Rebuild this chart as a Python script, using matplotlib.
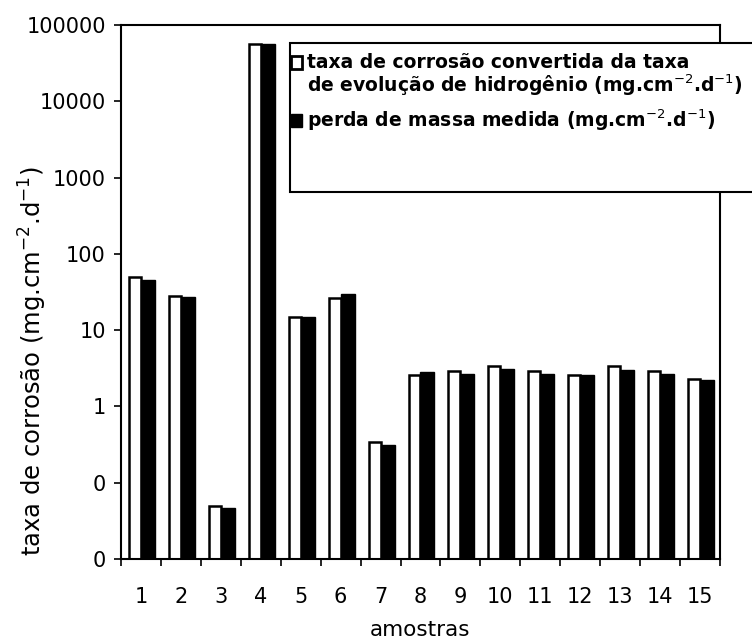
import matplotlib
matplotlib.use("Agg")
import matplotlib.pyplot as plt
from matplotlib.patches import Rectangle
import numpy as np

plt.rcParams['font.family'] = ['DejaVu Sans']

samples = [str(i) for i in range(1, 16)]
hydrogen_rate = [50, 28, 0.049, 57000, 15, 26, 0.34, 2.6, 2.9, 3.4, 2.9, 2.6, 3.4, 2.9, 2.3]
mass_loss = [45, 27, 0.046, 57000, 15, 30, 0.31, 2.8, 2.7, 3.1, 2.7, 2.6, 3.0, 2.7, 2.25]
ytick_values = [0.01, 0.1, 1, 10, 100, 1000, 10000, 100000]
ytick_labels = ['0', '0', '1', '10', '100', '1000', '10000', '100000']

fig = plt.figure(figsize=(7.52, 6.41), dpi=100)
ax = fig.add_axes([121/752, 1-559/641, (720-121)/752, (559-25)/641])

x = np.arange(1, len(samples) + 1)
w_white = 0.30
w_black = 0.35
ax.bar(x - w_white/2, hydrogen_rate, width=w_white, color='white', edgecolor='black', linewidth=1.8)
ax.bar(x + w_black/2, mass_loss, width=w_black, color='black', edgecolor='black', linewidth=1.0)

ax.set_yscale('log')
ax.set_ylim(0.01, 100000)
ax.set_xlim(0.5, len(samples) + 0.5)
ax.set_yticks(ytick_values)
ax.set_yticklabels(ytick_labels)
ax.yaxis.set_minor_locator(matplotlib.ticker.NullLocator())

# category boundaries carry the ticks, labels sit at the centres
ax.set_xticks(np.arange(0.5, len(samples) + 1, 1))
ax.set_xticklabels([])
ax.set_xticks(x, minor=True)
ax.set_xticklabels(samples, minor=True)
ax.tick_params(axis='x', which='major', direction='out', length=5, width=1.2)
ax.tick_params(axis='x', which='minor', length=0, pad=20, labelsize=15)
ax.tick_params(axis='y', direction='out', length=5, width=1.2, labelsize=15, pad=6)

for s in ax.spines.values():
    s.set_linewidth(1.5)

fig.text(420/752, 1-630/641, 'amostras', ha='center', va='center', fontsize=15.5)
fig.text(33/752, 1-361/641, 'taxa de corrosão (mg.cm$^{-2}$.d$^{-1}$)',
         rotation=90, ha='center', va='center', fontsize=17.5)

# legend box drawn in pixel space, running past the right edge
def px(xp, yp):
    return xp/752, 1-yp/641

bx, by = px(290, 192)
box = Rectangle((bx, by), (780-290)/752, (192-43)/641, transform=fig.transFigure,
                facecolor='white', edgecolor='black', linewidth=1.5, clip_on=False, zorder=5)
fig.patches.append(box)

sx, sy = px(291, 69)
fig.patches.append(Rectangle((sx, sy), 11/752, 13/641, transform=fig.transFigure,
                             facecolor='white', edgecolor='black', linewidth=2.0, zorder=6))
sx, sy = px(291, 127)
fig.patches.append(Rectangle((sx, sy), 11/752, 13/641, transform=fig.transFigure,
                             facecolor='black', edgecolor='black', linewidth=1.0, zorder=6))

fs = 13.5
tx, ty = px(307, 62)
fig.text(tx, ty, 'taxa de corrosão convertida da taxa', ha='left', va='center',
         fontsize=fs, fontweight='bold', zorder=7)
tx, ty = px(307, 85)
fig.text(tx, ty, 'de evolução de hidrogênio (mg.cm$^{-2}$.d$^{-1}$)', ha='left', va='center',
         fontsize=fs, fontweight='bold', zorder=7)
tx, ty = px(307, 120)
fig.text(tx, ty, 'perda de massa medida (mg.cm$^{-2}$.d$^{-1}$)', ha='left', va='center',
         fontsize=fs, fontweight='bold', zorder=7)

fig.savefig('out.png', dpi=100, facecolor='white')
